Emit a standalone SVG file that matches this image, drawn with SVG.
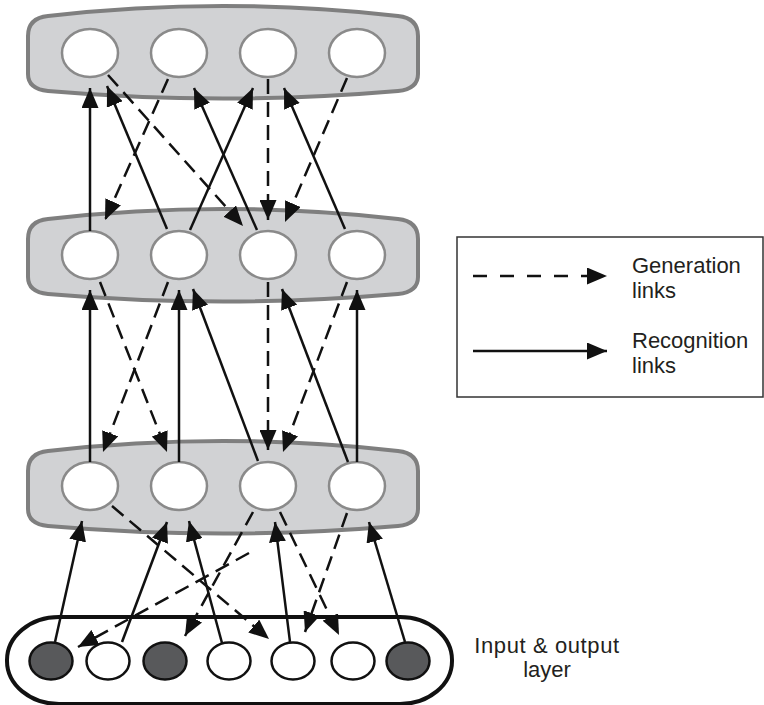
<svg xmlns="http://www.w3.org/2000/svg" width="764" height="705" viewBox="0 0 764 705">
<style>
.box{fill:#d1d2d4;stroke:#7f7f7f;stroke-width:4}
.hn{fill:#fff;stroke:#8a8a8a;stroke-width:2.5}
.in{fill:#fff;stroke:#111;stroke-width:2.5}
.ind{fill:#58595b;stroke:#111;stroke-width:2.5}
.rec{stroke:#111;stroke-width:2.5;fill:none;marker-end:url(#ah)}
.gen{stroke:#111;stroke-width:2.5;fill:none;stroke-dasharray:15 8;marker-end:url(#ah)}
.lgen{stroke:#111;stroke-width:2.5;fill:none;stroke-dasharray:14 13;marker-end:url(#ah)}
.lbl{font-family:"Liberation Sans",Arial,sans-serif;font-size:22px;fill:#231f20}
</style>
<defs>
<path id="layerShape" d="M28,36 Q28,18 48,16 Q223,-4 398,16 Q418,18 418,36 L418,74 Q418,89 398,91 Q223,106 48,91 Q28,89 28,74 Z"/>
<marker id="ah" viewBox="0 0 20 17" refX="20" refY="8.5" markerWidth="20" markerHeight="17" orient="auto" markerUnits="userSpaceOnUse">
<path d="M0,0 L20,8.5 L0,17 Z" fill="#111"/>
</marker>
</defs>

<g id="layer-top">
<use href="#layerShape" class="box"/>
<ellipse class="hn" cx="90" cy="53" rx="28" ry="24"/>
<ellipse class="hn" cx="179" cy="53" rx="28" ry="24"/>
<ellipse class="hn" cx="268" cy="53" rx="28" ry="24"/>
<ellipse class="hn" cx="357" cy="53" rx="28" ry="24"/>
</g>
<g id="layer-middle">
<use href="#layerShape" class="box" transform="translate(0,203)"/>
<ellipse class="hn" cx="90" cy="255" rx="28" ry="24"/>
<ellipse class="hn" cx="179" cy="255" rx="28" ry="24"/>
<ellipse class="hn" cx="268" cy="255" rx="28" ry="24"/>
<ellipse class="hn" cx="357" cy="255" rx="28" ry="24"/>
</g>
<g id="layer-bottom">
<use href="#layerShape" class="box" transform="translate(0,435)"/>
<ellipse class="hn" cx="90" cy="486" rx="28" ry="24"/>
<ellipse class="hn" cx="179" cy="486" rx="28" ry="24"/>
<ellipse class="hn" cx="268" cy="486" rx="28" ry="24"/>
<ellipse class="hn" cx="357" cy="486" rx="28" ry="24"/>
</g>
<g id="layer-input">
<rect x="7" y="617" width="445" height="87" rx="52" ry="43" fill="none" stroke="#111" stroke-width="4"/>
<ellipse class="ind" cx="51" cy="661" rx="21.5" ry="18.5"/>
<ellipse class="in" cx="108" cy="661" rx="21.5" ry="18.5"/>
<ellipse class="ind" cx="165" cy="661" rx="21.5" ry="18.5"/>
<ellipse class="in" cx="229" cy="661" rx="21.5" ry="18.5"/>
<ellipse class="in" cx="293" cy="661" rx="21.5" ry="18.5"/>
<ellipse class="in" cx="353" cy="661" rx="21.5" ry="18.5"/>
<ellipse class="ind" cx="408" cy="661" rx="21.5" ry="18.5"/>
</g>

<g id="connectors">
<!-- top <-> middle -->
<line class="rec" x1="90" y1="231" x2="90" y2="88"/>
<line class="rec" x1="167" y1="229" x2="107" y2="86"/>
<line class="rec" x1="257" y1="230" x2="194" y2="88"/>
<line class="rec" x1="190" y1="230" x2="253" y2="88"/>
<line class="rec" x1="345" y1="229" x2="284" y2="88"/>
<line class="gen" x1="108" y1="75" x2="243" y2="226"/>
<line class="gen" x1="168" y1="79" x2="105" y2="220"/>
<line class="gen" x1="268" y1="79" x2="268" y2="220"/>
<line class="gen" x1="347" y1="78" x2="285" y2="222"/>
<!-- middle <-> bottom -->
<line class="rec" x1="90" y1="462" x2="90" y2="290"/>
<line class="rec" x1="179" y1="462" x2="179" y2="290"/>
<line class="rec" x1="258" y1="461" x2="193" y2="289"/>
<line class="rec" x1="348" y1="462" x2="282" y2="289"/>
<line class="rec" x1="357" y1="462" x2="357" y2="290"/>
<line class="gen" x1="100" y1="282" x2="167" y2="452"/>
<line class="gen" x1="168" y1="282" x2="103" y2="452"/>
<line class="gen" x1="268" y1="282" x2="268" y2="450"/>
<line class="gen" x1="347" y1="282" x2="283" y2="452"/>
<!-- bottom <-> input -->
<line class="rec" x1="55" y1="642" x2="82" y2="521"/>
<line class="rec" x1="122" y1="642" x2="167" y2="522"/>
<line class="rec" x1="222" y1="643" x2="189" y2="521"/>
<line class="rec" x1="290" y1="642" x2="275" y2="522"/>
<line class="rec" x1="405" y1="642" x2="369" y2="522"/>
<line class="gen" x1="112" y1="506" x2="269" y2="639"/>
<line class="gen" x1="253" y1="512" x2="185" y2="636"/>
<line class="gen" x1="249" y1="553" x2="78" y2="647"/>
<line class="gen" x1="280" y1="512" x2="339" y2="635"/>
<line class="gen" x1="347" y1="513" x2="305" y2="632"/>
</g>

<g id="legend">
<rect x="457" y="237" width="306" height="160" fill="none" stroke="#333" stroke-width="1.5"/>
<line class="lgen" x1="473" y1="276" x2="607" y2="276"/>
<line class="rec" x1="473" y1="351" x2="607" y2="351"/>
<text class="lbl" x="632" y="273">Generation</text>
<text class="lbl" x="632" y="298">links</text>
<text class="lbl" x="632" y="348">Recognition</text>
<text class="lbl" x="632" y="373">links</text>
</g>

<g id="input-label">
<text class="lbl" x="547" y="653" text-anchor="middle" letter-spacing="0.6">Input &amp; output</text>
<text class="lbl" x="547" y="677" text-anchor="middle">layer</text>
</g>
</svg>
